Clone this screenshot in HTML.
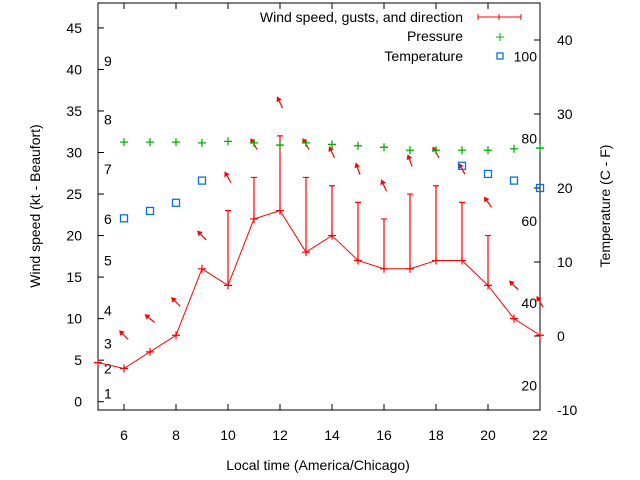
<!DOCTYPE html>
<html><head><meta charset="utf-8"><style>
body{margin:0;background:#fff}
svg{display:block;font-family:"Liberation Sans",sans-serif}
</style></head><body>
<svg id="c" width="640" height="480" viewBox="0 0 640 480"></svg>
<script>
const hours=[5,6,7,8,9,10,11,12,13,14,15,16,17,18,19,20,21,22];
const wind=[4.7,4,6,8,16,14,22,23,18,20,17,16,16,17,17,14,10,8];
const gusts=[null,null,null,null,null,23,27,32,27,26,24,22,25,26,24,20,null,null];
const dirs=[null,315,310,315,315,330,330,335,330,335,340,335,340,330,330,325,315,330];
const presHours=[6,7,8,9,10,11,12,13,14,15,16,17,18,19,20,21,22];
const pressure=[26.2,26.2,26.2,26.1,26.3,26.1,25.8,26.1,25.9,25.7,25.5,25.1,25.1,25.1,25.1,25.3,25.4];
const tempHours=[6,7,8,9,19,20,21,22];
const temp=[15.9,16.9,18,21,23,21.9,21,20];
const leftTicks=[0,5,10,15,20,25,30,35,40,45];
const rightTicks=[-10,0,10,20,30,40];
const xTicks=[6,8,10,12,14,16,18,20,22];
const beaufortKt=[1,4,7,11,17,22,28,34,41];
const beaufortLbl=["1","2","3","4","5","6","7","8","9"];
const fTicks=[20,40,60,80,100];

const L=98,R=540,T=3,B=410;
const X=h=>L+(h-5)*(R-L)/17;
const Y=v=>B-(v+1)*(B-T)/49;
const Y2=v=>B-(v+10)*(B-T)/55;
const svg=document.getElementById('c');
const NS='http://www.w3.org/2000/svg';
function mk(t,a,name,parent){const e=document.createElementNS(NS,t);for(const k in a)e.setAttribute(k,a[k]);


(parent||svg).appendChild(e);return e;}
function txt(x,y,s,anchor,name,extra){const e=mk('text',Object.assign({x:x,y:y,'font-size':14,fill:'#000','text-anchor':anchor||'start'},extra||{}),name);e.textContent=s;return e;}

// axes frame
mk('rect',{x:L,y:T,width:R-L,height:B-T,fill:'none',stroke:'#000','stroke-width':1},'plot-frame');
leftTicks.forEach(v=>{const y=Y(v);mk('line',{x1:L,x2:L+6,y1:y,y2:y,stroke:'#000'},'left-tick');txt(82,y+5,String(v),'end','left-tick-label');});
rightTicks.forEach(v=>{const y=Y2(v);mk('line',{x1:R-6,x2:R,y1:y,y2:y,stroke:'#000'},'right-tick');txt(557,y+5,String(v),'start','right-tick-label');});
xTicks.forEach(h=>{const x=X(h);mk('line',{x1:x,x2:x,y1:B-6,y2:B,stroke:'#000'},'x-tick');mk('line',{x1:x,x2:x,y1:T,y2:T+6,stroke:'#000'},'x-tick-top');txt(x,440,String(h),'middle','x-tick-label');});
beaufortKt.forEach((k,i)=>txt(104,Y(k)+5,beaufortLbl[i],'start','beaufort-label'));
fTicks.forEach(f=>txt(537,Y2((f-32)*5/9)+5,String(f),'end','fahrenheit-label'));
txt(318,470,'Local time (America/Chicago)','middle','x-axis-title');
txt(0,0,'Wind speed (kt - Beaufort)','middle','left-axis-title',{transform:'translate(40,206) rotate(-90)'});
txt(0,0,'Temperature (C - F)','middle','right-axis-title',{transform:'translate(610,206) rotate(-90)'});

// wind line
mk('polyline',{points:hours.map((h,i)=>X(h)+','+Y(wind[i])).join(' '),fill:'none',stroke:'#f00','stroke-width':1},'wind-line');
hours.forEach((h,i)=>{const x=X(h),y=Y(wind[i]);
 mk('path',{d:`M${x-4},${y}H${x+4}M${x},${y-4}V${y+4}`,stroke:'#f00','stroke-width':1.2},'wind-point');
 if(gusts[i]!=null){const g=Y(gusts[i]);mk('path',{d:`M${x},${y}V${g}M${x-3},${g}H${x+3}`,stroke:'#f00','stroke-width':1.2},'gust-bar');}
 if(dirs[i]!=null){const top=Math.max(wind[i],gusts[i]||0)+4;const cy=Y(top);const a=dirs[i]*Math.PI/180;
  const dx=Math.sin(a),dy=-Math.cos(a);const hx=x+dx*6,hy=cy+dy*6,tx=x-dx*6,ty=cy-dy*6;
  const px=-dy,py=dx;
  mk('line',{x1:tx,y1:ty,x2:hx,y2:hy,stroke:'#f00','stroke-width':1.2},'wind-direction-arrow');
  mk('polygon',{points:`${hx+dx*1},${hy+dy*1} ${hx-dx*4+px*3},${hy-dy*4+py*3} ${hx-dx*4-px*3},${hy-dy*4-py*3}`,fill:'#f00'},'wind-arrow-head');}
});
// pressure
presHours.forEach((h,i)=>{const x=X(h),y=Y2(pressure[i]);mk('path',{d:`M${x-4},${y}H${x+4}M${x},${y-4}V${y+4}`,stroke:'#00b000','stroke-width':1.3},'pressure-point');});
// temperature
tempHours.forEach((h,i)=>{const x=X(h),y=Y2(temp[i]);mk('rect',{x:x-3.5,y:y-3.5,width:7,height:7,fill:'none',stroke:'#0a70e0','stroke-width':1.3},'temperature-point');});
// legend
txt(463,22,'Wind speed, gusts, and direction','end','legend-wind-label');
mk('path',{d:'M478,17H521M478,14V20M521,14V20M499,14V20',stroke:'#f00','stroke-width':1},'legend-wind-sample');
txt(463,41,'Pressure','end','legend-pressure-label');
mk('path',{d:'M496,37H504M500,33V41',stroke:'#00b000','stroke-width':1},'legend-pressure-sample');
txt(463,61,'Temperature','end','legend-temperature-label');
mk('rect',{x:497,y:53,width:6,height:6,fill:'none',stroke:'#0a70e0','stroke-width':1.3},'legend-temperature-sample');
</script>
</body></html>
